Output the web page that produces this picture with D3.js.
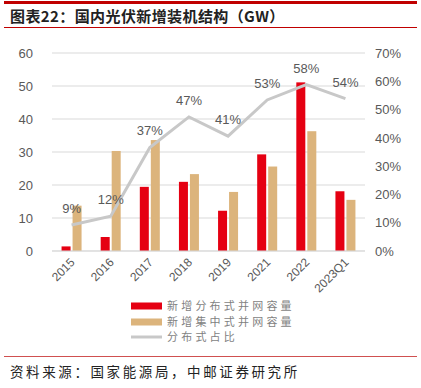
<!DOCTYPE html>
<html><head><meta charset="utf-8">
<script src="https://cdn.jsdelivr.net/npm/d3@7"></script>
<style>
body{margin:0;background:#fff;}
svg{display:block;font-family:"Liberation Sans","Noto Sans CJK SC",sans-serif;}
</style></head>
<body><svg id="c" width="421" height="388"></svg>
<script>
const categories = ["2015","2016","2017","2018","2019","2021","2022","2023Q1"];
const distributed = [1.39, 4.24, 19.44, 20.96, 12.2, 29.28, 51.1, 18.1];
const centralized = [13.74, 30.31, 33.62, 23.3, 17.9, 25.6, 36.3, 15.5];
const share = [0.092, 0.123, 0.366, 0.474, 0.406, 0.534, 0.588, 0.539];
const shareLabels = ["9%","12%","37%","47%","41%","53%","58%","54%"];
const leftTicks = [0,10,20,30,40,50,60];
const rightTicks = [0,0.1,0.2,0.3,0.4,0.5,0.6,0.7];
const seriesNames = ["新增分布式并网容量","新增集中式并网容量","分布式占比"];
const title = "图表22：国内光伏新增装机结构（GW）";
const source = "资料来源：国家能源局，中邮证券研究所";

const svg = d3.select("#c");
const L = 52, R = 365, T = 53, B = 251;
const x = d3.scaleBand().domain(categories).range([L, R]).paddingInner(0).paddingOuter(0);
const y = d3.scaleLinear().domain([0,60]).range([B, T]);
const y2 = d3.scaleLinear().domain([0,0.7]).range([B, T]);
const red = "#e50012", tan = "#dcb47c", grey = "#c8c8c8", txt = "#595959";

// top lines
svg.append("rect").attr("x",4).attr("y",1).attr("width",413).attr("height",3).attr("fill","#c00000");
svg.append("text").attr("x",10).attr("y",22).attr("font-family","'Noto Sans CJK SC'").attr("font-weight",700)
  .attr("font-size",15).attr("letter-spacing",0.4).attr("fill","#222").text(title);
svg.append("rect").attr("x",4).attr("y",27).attr("width",413).attr("height",1).attr("fill","#c00000");

// gridlines
svg.append("g").selectAll("line").data(leftTicks).join("line")
  .attr("x1",L).attr("x2",R).attr("y1",d=>y(d)).attr("y2",d=>y(d))
  .attr("stroke","#d9d9d9").attr("stroke-width",1);

// left axis
const la = svg.append("g").attr("transform",`translate(${L},0)`)
  .call(d3.axisLeft(y).tickValues(leftTicks).tickSize(0).tickPadding(19));
la.select(".domain").remove();
la.selectAll("text").attr("font-size",13).attr("fill",txt).attr("font-family","'Liberation Sans'");

// right axis
const ra = svg.append("g").attr("transform",`translate(${R},0)`)
  .call(d3.axisRight(y2).tickValues(rightTicks).tickSize(0).tickPadding(10).tickFormat(d3.format(".0%")));
ra.select(".domain").remove();
ra.selectAll("text").attr("font-size",13).attr("fill",txt).attr("font-family","'Liberation Sans'");

// bars
const bw = 9, gap = 2;
const g = svg.append("g");
g.selectAll(".d").data(categories).join("rect")
  .attr("x",(d)=>x(d)+x.bandwidth()/2 - bw - gap/2)
  .attr("y",(d,i)=>y(distributed[i])).attr("width",bw)
  .attr("height",(d,i)=>B - y(distributed[i])).attr("fill",red);
g.selectAll(".c").data(categories).join("rect")
  .attr("x",(d)=>x(d)+x.bandwidth()/2 + gap/2)
  .attr("y",(d,i)=>y(centralized[i])).attr("width",bw)
  .attr("height",(d,i)=>B - y(centralized[i])).attr("fill",tan);

// x axis line
svg.append("line").attr("x1",L).attr("x2",R).attr("y1",B).attr("y2",B).attr("stroke","#d9d9d9");

// x labels
svg.append("g").selectAll("text").data(categories).join("text")
  .attr("transform",d=>`translate(${x(d)+x.bandwidth()/2+4},${B+12}) rotate(-45)`)
  .attr("text-anchor","end").attr("font-size",12).attr("fill",txt)
  .attr("font-family","'Liberation Sans'").text(d=>d);

// line
const line = d3.line().x((d,i)=>x(categories[i])+x.bandwidth()/2).y(d=>y2(d));
svg.append("path").attr("d",line(share)).attr("fill","none").attr("stroke",grey).attr("stroke-width",3);

// line labels
svg.append("g").selectAll("text").data(share).join("text")
  .attr("x",(d,i)=>x(categories[i])+x.bandwidth()/2)
  .attr("y",d=>y2(d)-12).attr("text-anchor","middle").attr("font-size",13).attr("fill",txt)
  .attr("font-family","'Liberation Sans'").text((d,i)=>shareLabels[i]);

// legend
const lg = svg.append("g");
const ly = [306, 322, 337];
lg.append("rect").attr("x",131).attr("y",ly[0]-3.5).attr("width",31).attr("height",7).attr("fill",red);
lg.append("rect").attr("x",131).attr("y",ly[1]-3.5).attr("width",31).attr("height",7).attr("fill",tan);
lg.append("line").attr("x1",131).attr("x2",162).attr("y1",ly[2]).attr("y2",ly[2]).attr("stroke",grey).attr("stroke-width",3);
lg.selectAll("text").data(seriesNames).join("text")
  .attr("x",167).attr("y",(d,i)=>ly[i]+4).attr("font-size",11).attr("fill","#7f7f7f")
  .attr("letter-spacing",3.2).attr("font-family","'Noto Sans CJK SC'").text(d=>d);

// bottom line + source
svg.append("rect").attr("x",4).attr("y",356).attr("width",413).attr("height",1).attr("fill","#d05050");
svg.append("text").attr("x",10).attr("y",377).attr("font-size",13.5).attr("fill","#222")
  .attr("letter-spacing",2.6).attr("font-family","'Noto Sans CJK SC'").text(source);
</script></body></html>
